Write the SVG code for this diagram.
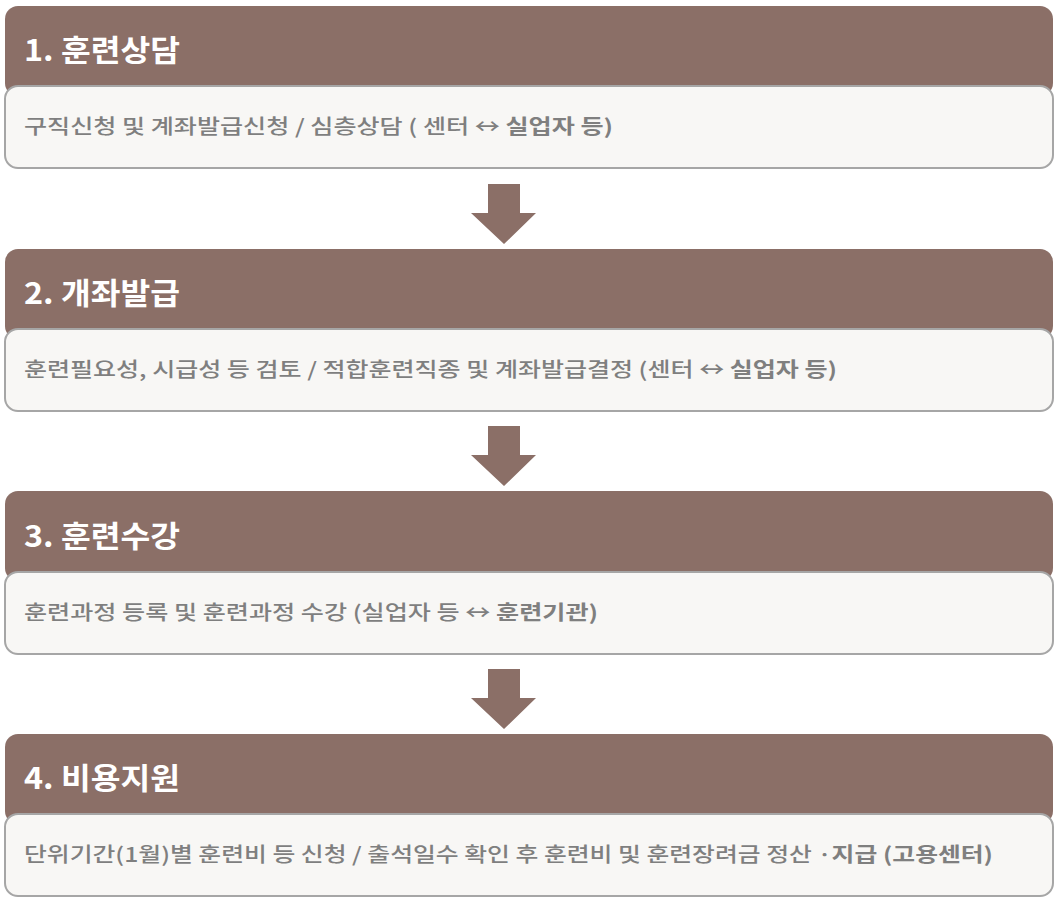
<svg xmlns="http://www.w3.org/2000/svg" width="1063" height="905" viewBox="0 0 1063 905">
<style>
.hd{fill:#8b6f67}
.bx{fill:#f8f7f5;stroke:#a6a6a6;stroke-width:2}
.ht{font-family:"Noto Sans CJK KR","Noto Sans",sans-serif;font-size:30px;font-weight:bold;fill:#ffffff}
.bt{font-family:"Noto Sans CJK KR","Noto Sans",sans-serif;font-size:20px;font-weight:500;fill:#7f7f7f}
.b{font-weight:bold}
.ar{fill:#8b6f67}
</style>
<rect width="1063" height="905" fill="#ffffff"/>
<g id="connectors">
<polygon class="ar" points="488,184 520,184 520,213 536,213 504,244 471,213 488,213"/>
<polygon class="ar" points="488,426 520,426 520,455 536,455 504,486 471,455 488,455"/>
<polygon class="ar" points="488,669 520,669 520,698 536,698 504,729 471,698 488,698"/>
</g>
<g id="step1">
<rect class="hd" x="5" y="6" width="1048" height="90" rx="13"/>
<rect class="bx" x="5" y="86" width="1048" height="82" rx="13"/>
<text class="ht" x="24" y="61" textLength="156" lengthAdjust="spacingAndGlyphs">1. 훈련상담</text>
<text class="bt" x="24" y="134" textLength="589" lengthAdjust="spacingAndGlyphs">구직신청 및 계좌발급신청 / 심층상담 ( 센터 ↔ <tspan class="b">실업자 등)</tspan></text>
</g>
<g id="step2">
<rect class="hd" x="5" y="249" width="1048" height="90" rx="13"/>
<rect class="bx" x="5" y="329" width="1048" height="82" rx="13"/>
<text class="ht" x="24" y="304" textLength="156" lengthAdjust="spacingAndGlyphs">2. 개좌발급</text>
<text class="bt" x="24" y="377" textLength="813" lengthAdjust="spacingAndGlyphs">훈련필요성, 시급성 등 검토 / 적합훈련직종 및 계좌발급결정 (센터 ↔ <tspan class="b">실업자 등)</tspan></text>
</g>
<g id="step3">
<rect class="hd" x="5" y="491" width="1048" height="90" rx="13"/>
<rect class="bx" x="5" y="572" width="1048" height="82" rx="13"/>
<text class="ht" x="24" y="547" textLength="156" lengthAdjust="spacingAndGlyphs">3. 훈련수강</text>
<text class="bt" x="24" y="620" textLength="574" lengthAdjust="spacingAndGlyphs">훈련과정 등록 및 훈련과정 수강 (실업자 등 ↔ <tspan class="b">훈련기관)</tspan></text>
</g>
<g id="step4">
<rect class="hd" x="5" y="734" width="1048" height="90" rx="13"/>
<rect class="bx" x="5" y="814" width="1048" height="82" rx="13"/>
<text class="ht" x="24" y="789" textLength="156" lengthAdjust="spacingAndGlyphs">4. 비용지원</text>
<text class="bt" x="24" y="862" textLength="969" lengthAdjust="spacingAndGlyphs">단위기간(1월)별 훈련비 등 신청 / 출석일수 확인 후 훈련비 및 훈련장려금 정산 ·<tspan class="b">지급 (고용센터)</tspan></text>
</g>
</svg>
